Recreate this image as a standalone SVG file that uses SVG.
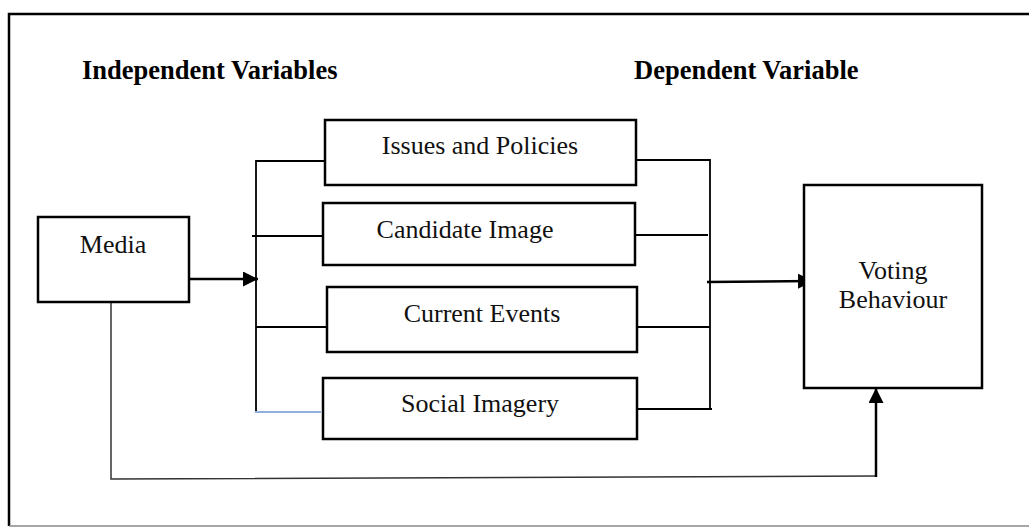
<svg xmlns="http://www.w3.org/2000/svg" width="1029" height="527" viewBox="0 0 1029 527">
<style>
.box{fill:#fff;stroke:#000;stroke-width:2.5}
.lbl{font-family:"Liberation Serif","Times New Roman",serif;font-size:26px;fill:#111;text-anchor:middle}
.hdr{font-family:"Liberation Serif","Times New Roman",serif;font-size:26.5px;font-weight:bold;fill:#000}
.ln{fill:none;stroke:#000;stroke-width:1.8}
</style>
<defs>
<marker id="ah" markerWidth="15" markerHeight="15" refX="15" refY="7.5" orient="auto" markerUnits="userSpaceOnUse">
<path d="M0,0 L15,7.5 L0,15 Z" fill="#000"/>
</marker>
</defs>
<rect width="1029" height="527" fill="#fff"/>
<path d="M1029,14 H9 V526" fill="none" stroke="#000" stroke-width="2.5"/>
<line x1="9" y1="526" x2="1029" y2="526" stroke="#888" stroke-width="1.5"/>
<text class="hdr" x="82" y="79">Independent Variables</text>
<text class="hdr" x="634" y="79">Dependent Variable</text>
<g id="connectors">
<path class="ln" d="M330,161 H256 V411"/>
<line class="ln" x1="252" y1="236" x2="326" y2="236"/>
<line class="ln" x1="256" y1="327" x2="332" y2="327"/>
<line x1="255" y1="412" x2="321" y2="412" stroke="#6f95d0" stroke-width="1.5"/>
<path class="ln" d="M636,160 H710 V410"/>
<line class="ln" x1="634" y1="235" x2="708" y2="235"/>
<line class="ln" x1="634" y1="327" x2="710" y2="327"/>
<line class="ln" x1="637" y1="409" x2="712" y2="409"/>
<line x1="189" y1="279" x2="258" y2="279" stroke="#000" stroke-width="2.5" marker-end="url(#ah)"/>
<line x1="707" y1="282" x2="813" y2="281" stroke="#000" stroke-width="2.5" marker-end="url(#ah)"/>
<path d="M111,298 V479 L876,476" fill="none" stroke="#333" stroke-width="1.5"/>
<line x1="876" y1="477" x2="876" y2="388" stroke="#000" stroke-width="2.5" marker-end="url(#ah)"/>
</g>
<g id="media"><rect class="box" x="38" y="217" width="151" height="85"/><text class="lbl" x="113" y="253">Media</text></g>
<g id="issues"><rect class="box" x="325" y="120" width="311" height="65"/><text class="lbl" x="480" y="154">Issues and Policies</text></g>
<g id="candidate"><rect class="box" x="323" y="203" width="312" height="62"/><text class="lbl" x="465" y="238">Candidate Image</text></g>
<g id="events"><rect class="box" x="327" y="287" width="310" height="65"/><text class="lbl" x="482" y="322">Current Events</text></g>
<g id="social"><rect class="box" x="323" y="378" width="314" height="61"/><text class="lbl" x="480" y="412">Social Imagery</text></g>
<g id="voting"><rect class="box" x="804" y="185" width="178" height="203"/><text class="lbl" x="893" y="279">Voting</text><text class="lbl" x="893" y="308">Behaviour</text></g>
</svg>
